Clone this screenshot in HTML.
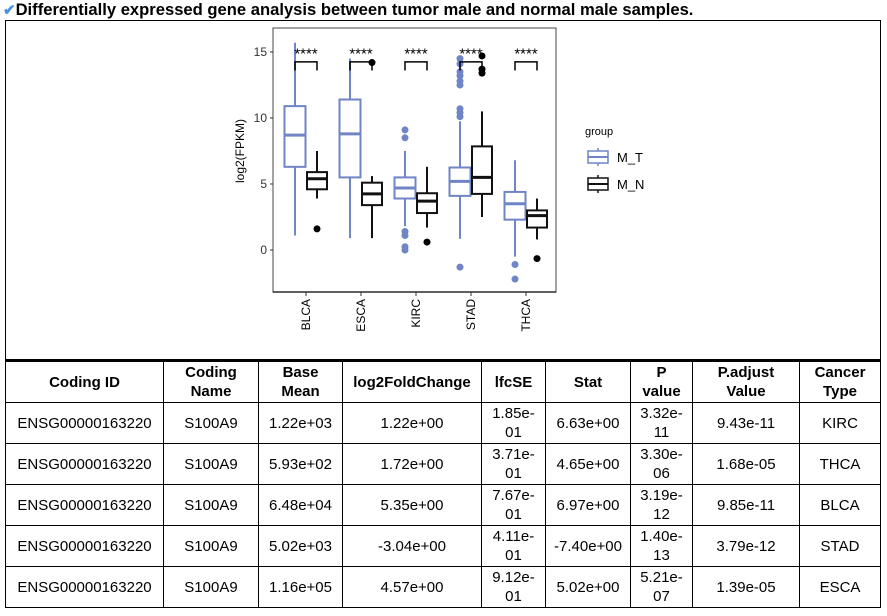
<!DOCTYPE html>
<html><head><meta charset="utf-8">
<style>
body{margin:0;width:887px;height:616px;background:#fff;font-family:"Liberation Sans",Arial,sans-serif;position:relative;overflow:hidden}
#title{position:absolute;left:3px;top:0px;font-size:16.6px;font-weight:bold;color:#000;white-space:nowrap}
#title .chk{color:#4a90e2;font-size:15px}
#chartbox{position:absolute;left:5px;top:20px;width:874px;height:340px;border:1px solid #000;border-bottom:none}
table{position:absolute;left:5px;top:359px;width:876px;border-collapse:collapse;border-top:3px solid #000;font-size:15px}
td,th{border:1px solid #000;text-align:center;padding:0 3px;line-height:19px}
th{font-weight:bold;height:40px}
td{height:40px}
</style></head><body>
<div id="title"><span class="chk">✔</span>Differentially expressed gene analysis between tumor male and normal male samples.</div>
<div id="chartbox">
<svg id="chart" width="874" height="340" style="position:absolute;left:-1px;top:-1px"></svg>
</div>
<table>
<tr><th style="width:151px">Coding ID</th><th style="width:88px">Coding<br>Name</th><th style="width:77px">Base<br>Mean</th><th style="width:132px">log2FoldChange</th><th style="width:57px">lfcSE</th><th style="width:78px">Stat</th><th style="width:55px">P<br>value</th><th style="width:100px">P.adjust<br>Value</th><th>Cancer<br>Type</th></tr>
<tr><td>ENSG00000163220</td><td>S100A9</td><td>1.22e+03</td><td>1.22e+00</td><td>1.85e-<br>01</td><td>6.63e+00</td><td>3.32e-<br>11</td><td>9.43e-11</td><td>KIRC</td></tr>
<tr><td>ENSG00000163220</td><td>S100A9</td><td>5.93e+02</td><td>1.72e+00</td><td>3.71e-<br>01</td><td>4.65e+00</td><td>3.30e-<br>06</td><td>1.68e-05</td><td>THCA</td></tr>
<tr><td>ENSG00000163220</td><td>S100A9</td><td>6.48e+04</td><td>5.35e+00</td><td>7.67e-<br>01</td><td>6.97e+00</td><td>3.19e-<br>12</td><td>9.85e-11</td><td>BLCA</td></tr>
<tr><td>ENSG00000163220</td><td>S100A9</td><td>5.02e+03</td><td>-3.04e+00</td><td>4.11e-<br>01</td><td>-7.40e+00</td><td>1.40e-<br>13</td><td>3.79e-12</td><td>STAD</td></tr>
<tr><td>ENSG00000163220</td><td>S100A9</td><td>1.16e+05</td><td>4.57e+00</td><td>9.12e-<br>01</td><td>5.02e+00</td><td>5.21e-<br>07</td><td>1.39e-05</td><td>ESCA</td></tr>
</table>
<script>
const categories=["BLCA","ESCA","KIRC","STAD","THCA"];
// [lowerWhisker, q1, median, q3, upperWhisker]
const tumorStats=[[1.1,6.3,8.7,10.9,15.7],[0.9,5.5,8.8,11.4,14.5],[1.8,3.9,4.7,5.5,7.5],[0.85,4.1,5.2,6.25,9.75],[-0.5,2.3,3.5,4.4,6.8]];
const normalStats=[[3.9,4.6,5.4,5.9,7.5],[0.9,3.4,4.25,5.1,5.6],[1.7,2.8,3.7,4.3,6.3],[2.5,4.25,5.5,7.85,10.5],[0.8,1.7,2.6,3.0,3.9]];
const tumorOutliers=[[],[],[9.1,8.5,1.4,1.1,0.25,0],[10.1,10.4,10.7,12.5,12.8,13.2,13.5,14.1,14.5,-1.3],[-1.1,-2.2]];
const normalOutliers=[[1.6],[14.2],[0.6],[14.7,13.7,13.4],[-0.65]];
const sigLabels=["****","****","****","****","****"];
const yTicks=[0,5,10,15];

const svg=document.getElementById('chart');
const NS="http://www.w3.org/2000/svg";
const ox=-5,oy=-20;
function y(v){return 250-13.2*v+oy;}
function xc(i){return 306+55*i+ox;}
function mk(tag,attrs,parent){const e=document.createElementNS(NS,tag);for(const k in attrs)e.setAttribute(k,attrs[k]);(parent||svg).appendChild(e);return e;}

const frame=mk('rect',{x:273+ox,y:28+oy,width:283,height:264,fill:'none',stroke:'#444','stroke-width':1});


const xaxis=mk('line',{x1:273+ox,x2:556+ox,y1:292+oy,y2:292+oy,stroke:'#000','stroke-width':1.2});



yTicks.forEach(t=>{
  const tk=mk('line',{x1:270+ox,x2:273+ox,y1:y(t),y2:y(t),stroke:'#333'});
  
  
  const tl=mk('text',{x:267+ox,y:y(t)+4,'text-anchor':'end','font-size':12,fill:'#333'});
  tl.textContent=t;
  
  
});
const yt=mk('text',{transform:`translate(${244+ox},${151+oy}) rotate(-90)`,'text-anchor':'middle','font-size':12,fill:'#000'});
yt.textContent='log2(FPKM)';



function drawBox(cx,s,col,w,name){
  const g=mk('g',{});
  
  
  mk('line',{x1:cx,x2:cx,y1:y(s[0]),y2:y(s[1]),stroke:col,'stroke-width':2},g);
  mk('line',{x1:cx,x2:cx,y1:y(s[3]),y2:y(s[4]),stroke:col,'stroke-width':2},g);
  mk('rect',{x:cx-w/2,y:y(s[3]),width:w,height:y(s[1])-y(s[3]),fill:'#fff',stroke:col,'stroke-width':2},g);
  mk('line',{x1:cx-w/2,x2:cx+w/2,y1:y(s[2]),y2:y(s[2]),stroke:col,'stroke-width':3},g);
}
categories.forEach((c,i)=>{
  const tx=xc(i)-11,nx=xc(i)+11;
  drawBox(tx,tumorStats[i],'#6f85c6',21,'box-tumor-'+c.toLowerCase());
  drawBox(nx,normalStats[i],'#111',20,'box-normal-'+c.toLowerCase());
  tumorOutliers[i].forEach(v=>{
    const p=mk('circle',{cx:tx,cy:y(v),r:3.5,fill:'#6f85c6'});
    
    
  });
  normalOutliers[i].forEach(v=>{
    const p=mk('circle',{cx:nx,cy:y(v),r:3.5,fill:'#000'});
    
    
  });
  const br=mk('path',{d:`M${tx},${y(13.6)}V${y(14.25)}H${nx}V${y(13.6)}`,fill:'none',stroke:'#000','stroke-width':1.5});
  
  
  const st=mk('text',{x:xc(i),y:y(15.1)+8,'text-anchor':'middle','font-size':15,fill:'#000'});
  st.textContent=sigLabels[i];
  
  
  const tk=mk('line',{x1:xc(i),x2:xc(i),y1:292+oy,y2:296+oy,stroke:'#333'});
  
  
  const xl=mk('text',{transform:`translate(${xc(i)+4},${299+oy}) rotate(-90)`,'text-anchor':'end','font-size':12,fill:'#000'});
  xl.textContent=c;
  
  
});

const lg=mk('g',{});


const lt=mk('text',{x:585+ox,y:135+oy,'font-size':11,fill:'#000'},lg);
lt.textContent='group';
[['M_T','#6f85c6',157],['M_N','#111',184]].forEach(([lab,col,cy])=>{
  const e=mk('g',{},lg);
  
  
  mk('line',{x1:598+ox,x2:598+ox,y1:cy-9+oy,y2:cy+9+oy,stroke:col,'stroke-width':1.5},e);
  mk('rect',{x:588+ox,y:cy-6+oy,width:20,height:12,fill:'#fff',stroke:col,'stroke-width':1.5},e);
  mk('line',{x1:588+ox,x2:608+ox,y1:cy+oy,y2:cy+oy,stroke:col,'stroke-width':2},e);
  const t=mk('text',{x:617+ox,y:cy+5+oy,'font-size':13,fill:'#000'},e);
  t.textContent=lab;
});
</script>
</body></html>
